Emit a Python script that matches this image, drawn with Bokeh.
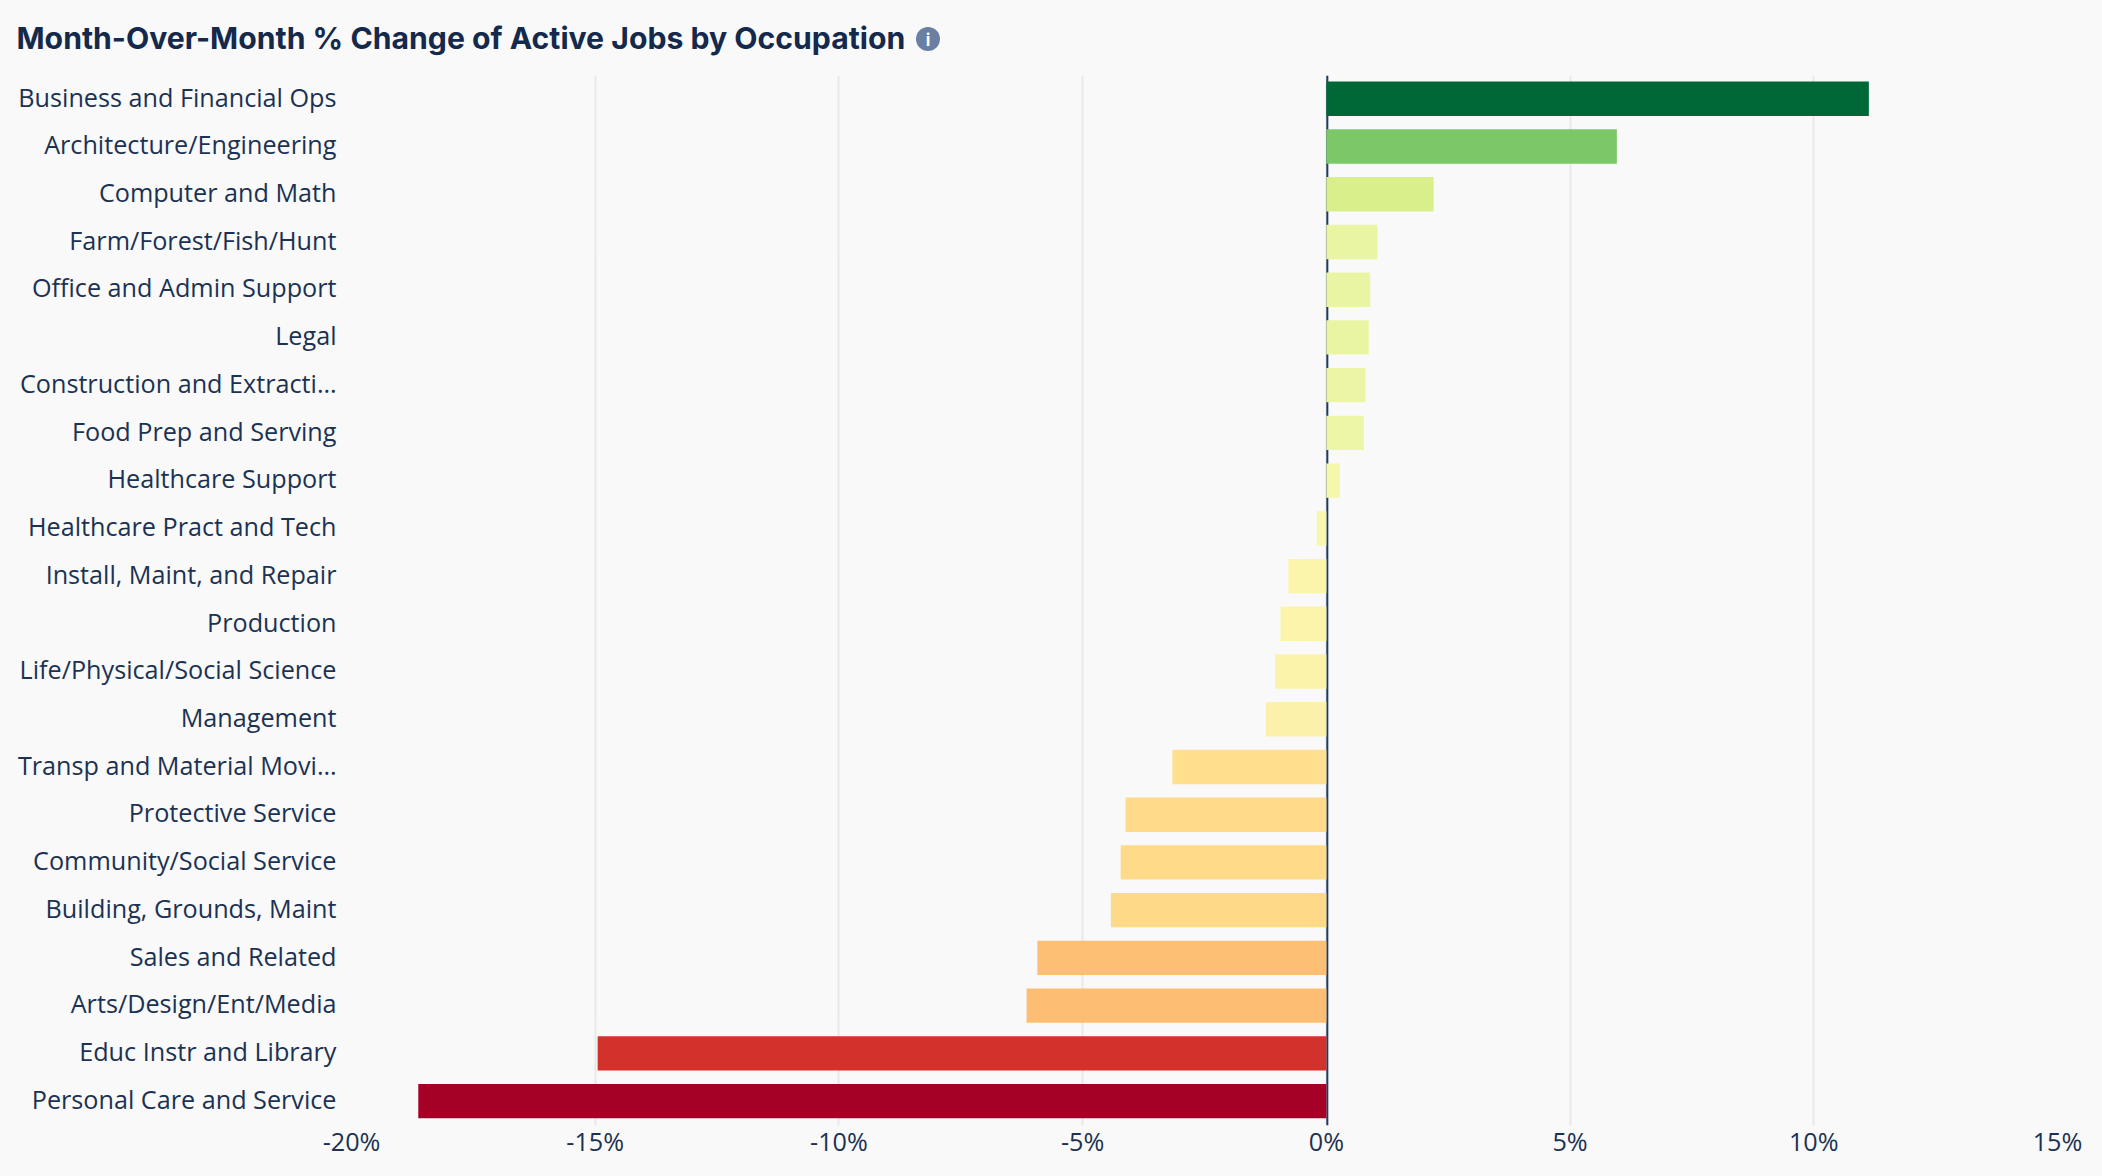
from bokeh.core.properties import value
from bokeh.embed import file_html
from bokeh.layouts import column
from bokeh.resources import INLINE
from bokeh.plotting import figure
from bokeh.models import ColumnDataSource, FixedTicker, LinearAxis, Range1d, Span

TITLE = "Month-Over-Month % Change of Active Jobs by Occupation"
occupations = [
    "Business and Financial Ops", "Architecture/Engineering", "Computer and Math",
    "Farm/Forest/Fish/Hunt", "Office and Admin Support", "Legal",
    "Construction and Extracti…", "Food Prep and Serving", "Healthcare Support",
    "Healthcare Pract and Tech", "Install, Maint, and Repair", "Production",
    "Life/Physical/Social Science", "Management", "Transp and Material Movi…",
    "Protective Service", "Community/Social Service", "Building, Grounds, Maint",
    "Sales and Related", "Arts/Design/Ent/Media", "Educ Instr and Library",
    "Personal Care and Service",
]
changes = [11.13, 5.96, 2.2, 1.05, 0.9, 0.87, 0.8, 0.77, 0.28, -0.2, -0.78, -0.94,
           -1.05, -1.24, -3.16, -4.12, -4.22, -4.42, -5.93, -6.15, -14.95, -18.63]
colors = ["#006837", "#7CC868", "#D9EF8B", "#E9F5A2", "#EAF5A3", "#EAF5A3", "#EBF5A5",
          "#ECF6A6", "#F4F7AC", "#FAF6AE", "#FBF5AB", "#FBF4AA", "#FBF3AA", "#FBF1AA",
          "#FEE08F", "#FEDA8A", "#FEDA89", "#FED987", "#FDBF73", "#FDBE73", "#D3312C",
          "#A50026"]
tick_values = [-20, -15, -10, -5, 0, 5, 10, 15]
tick_labels = {v: f"{v}%" for v in tick_values}

BG = "#F9F9F9"
INK = "#1B3252"
TITLE_INK = "#14294B"

# Header strip: a small figure of its own, so the title and the info icon are real SVG.
head = figure(width=2102, height=75, output_backend="svg", toolbar_location=None,
              x_range=Range1d(0, 2102), y_range=Range1d(75, 0),
              x_axis_location=None, y_axis_location=None,
              background_fill_color=BG, border_fill_color=BG,
              min_border=0)
head.frame_align = False
head.outline_line_color = None
head.grid.visible = False
head.text(x=[16], y=[37], text=[TITLE], text_font=value("Inter"), text_font_style="bold",
          text_font_size="30.2px", text_color=TITLE_INK, text_baseline="middle")
head.scatter(x=[927.5], y=[38.5], size=24, marker="circle", fill_color="#6B7FA3", line_color=None)
head.text(x=[927.5], y=[39], text=["i"], text_font=value("Inter"), text_font_style="bold",
          text_font_size="17px", text_color="#FFFFFF", text_baseline="middle", text_align="center")

n = len(occupations)
rows = list(range(n))
src = ColumnDataSource(dict(row=rows, change=changes, color=colors))

BAR_NUDGE = 0.012
p = figure(
    width=2102, height=1101, output_backend="svg", toolbar_location=None,
    x_range=Range1d(-20, 15), y_range=Range1d(n - 0.5 + BAR_NUDGE, -0.5 + BAR_NUDGE),
    y_axis_location=None,
    background_fill_color=BG, border_fill_color=BG,
    min_border_left=351, min_border_right=45, min_border_top=0, min_border_bottom=51,
)
p.frame_align = False
p.outline_line_color = None
p.ygrid.visible = False
p.xgrid.grid_line_color = "#E8E8E8"
p.xgrid.grid_line_width = 2
p.xgrid.ticker = FixedTicker(ticks=tick_values)

p.add_layout(Span(location=0.02, dimension="height", line_color="#1F3A5F", line_width=2, level="underlay"))
p.hbar(y="row", left=0, right="change", height=0.72, fill_color="color", line_color=None, source=src)

# Category labels sit slightly above the bar centres in the reference: their axis runs on a
# range nudged by a fraction of a band.
LABEL_NUDGE = 0.06
p.extra_y_ranges = {"labels": Range1d(n - 0.5 + LABEL_NUDGE, -0.5 + LABEL_NUDGE)}
yaxis = LinearAxis(y_range_name="labels", ticker=FixedTicker(ticks=rows),
                   major_label_overrides=dict(zip(rows, occupations)))
p.add_layout(yaxis, "left")

for ax in (p.xaxis[0], yaxis):
    ax.axis_line_color = None
    ax.major_tick_line_color = None
    ax.minor_tick_line_color = None
    ax.major_label_text_font = "Open Sans"
    ax.major_label_text_font_size = "25.2px"
    ax.major_label_text_color = INK
p.xaxis[0].ticker = FixedTicker(ticks=tick_values)
p.xaxis[0].major_label_overrides = tick_labels
p.xaxis[0].major_label_standoff = -8
yaxis.major_label_standoff = 9

page = column(head, p, spacing=0)
html = file_html(page, INLINE)
html = html.replace("<head>", f"<head><style>html,body{{background:{BG}}}</style>", 1)
open("out.html", "w").write(html)
